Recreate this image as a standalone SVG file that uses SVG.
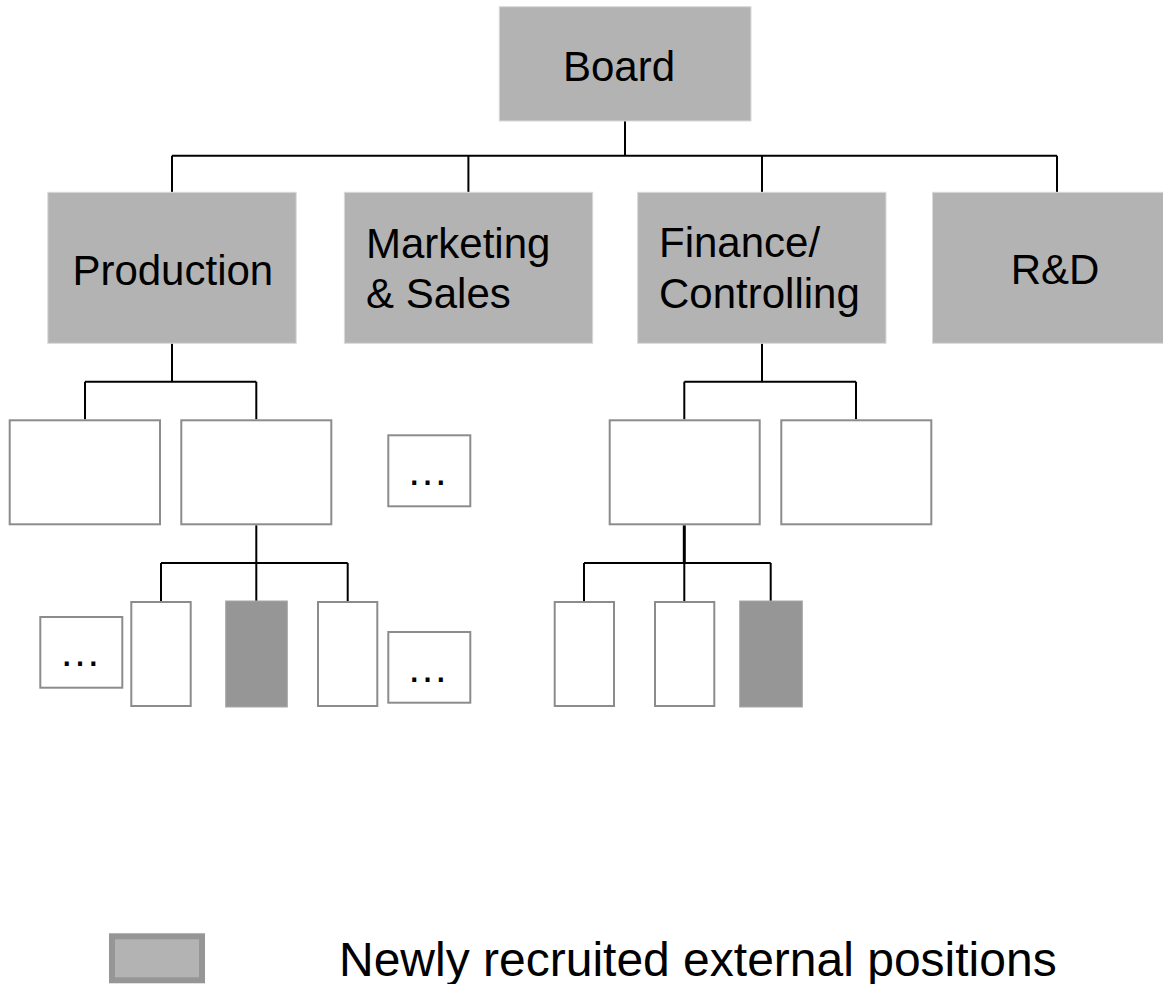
<svg xmlns="http://www.w3.org/2000/svg" width="1163" height="984" viewBox="0 0 1163 984">
  <style>
    .unit { fill: #b3b3b3; stroke: #d9d9d9; stroke-width: 1; }
    .post { fill: #ffffff; stroke: #8c8c8c; stroke-width: 2; }
    .hire { fill: #969696; stroke: #a6a6a6; stroke-width: 1; }
    .label { font-family: "Liberation Sans", Arial, sans-serif; font-size: 42px; fill: #000000; }
    .dots { font-family: "Liberation Sans", Arial, sans-serif; font-size: 42px; fill: #000000; text-anchor: middle; }
    .wire { fill: none; stroke: #000000; stroke-width: 2; }
  </style>
  <rect width="1163" height="984" fill="#ffffff"/>

  <!-- reporting lines -->
  <g id="connectors" class="wire">
    <path d="M625 121 V155.7 M172 155.7 H1057 M172 155.7 V192.3 M468.4 155.7 V192.3 M762 155.7 V192.3 M1057 155.7 V192.3"/>
    <path d="M172 343.3 V381.7 M85 381.7 H256.3 M85 381.7 V419.3 M256.3 381.7 V419.3"/>
    <path d="M256.3 525.3 V563 M161 563 H347.7 M161 563 V601 M256.3 563 V601 M347.7 563 V601"/>
    <path d="M762 343.3 V381.7 M684.3 381.7 H856 M684.3 381.7 V419.3 M856 381.7 V419.3"/>
    <path d="M684.3 525.3 V563" stroke-width="3"/>
    <path d="M584 563 H770.7 M584 563 V601 M684.3 563 V601 M770.7 563 V601"/>
  </g>

  <!-- top level -->
  <g id="board">
    <rect class="unit" x="499.3" y="6.7" width="251.7" height="114.3"/>
    <text class="label" x="563" y="81">Board</text>
  </g>

  <!-- divisions -->
  <g id="production">
    <rect class="unit" x="47.8" y="192.3" width="248.4" height="151"/>
    <text class="label" x="72.4" y="285">Production</text>
  </g>
  <g id="marketing-sales">
    <rect class="unit" x="344.4" y="192.3" width="248.3" height="151"/>
    <text class="label" x="366" y="258">Marketing</text>
    <text class="label" x="366" y="308">&amp; Sales</text>
  </g>
  <g id="finance-controlling">
    <rect class="unit" x="637.6" y="192.3" width="248.4" height="151"/>
    <text class="label" x="659" y="257">Finance/</text>
    <text class="label" x="659" y="307.5">Controlling</text>
  </g>
  <g id="rnd">
    <rect class="unit" x="932.5" y="192.3" width="248.4" height="151"/>
    <text class="label" x="1010.7" y="284">R&amp;D</text>
  </g>

  <!-- production departments -->
  <g id="prod-dept-1"><rect class="post" x="9.7" y="420.3" width="150.3" height="104"/></g>
  <g id="prod-dept-2"><rect class="post" x="181.3" y="420.3" width="150" height="104"/></g>
  <g id="prod-dept-more">
    <rect class="post" x="388.3" y="435.3" width="82" height="71"/>
    <text class="dots" x="427.5" y="485">…</text>
  </g>

  <!-- production positions -->
  <g id="prod-pos-more-left">
    <rect class="post" x="40.3" y="617" width="82" height="70.7"/>
    <text class="dots" x="80" y="665.5">…</text>
  </g>
  <g id="prod-pos-1"><rect class="post" x="131.3" y="602" width="59.4" height="104"/></g>
  <g id="prod-pos-2"><rect class="hire" x="225.7" y="601" width="61.6" height="106"/></g>
  <g id="prod-pos-3"><rect class="post" x="318" y="602" width="59.3" height="104"/></g>
  <g id="prod-pos-more-right">
    <rect class="post" x="388.3" y="632" width="82" height="70.7"/>
    <text class="dots" x="427.5" y="682">…</text>
  </g>

  <!-- finance departments -->
  <g id="fin-dept-1"><rect class="post" x="609.7" y="420.3" width="150" height="104"/></g>
  <g id="fin-dept-2"><rect class="post" x="781.3" y="420.3" width="150" height="104"/></g>

  <!-- finance positions -->
  <g id="fin-pos-1"><rect class="post" x="554.7" y="602" width="59.3" height="104"/></g>
  <g id="fin-pos-2"><rect class="post" x="655" y="602" width="59.3" height="104"/></g>
  <g id="fin-pos-3"><rect class="hire" x="739.7" y="601" width="62.6" height="106"/></g>

  <!-- key -->
  <g id="legend">
    <rect x="112" y="936.3" width="90" height="44" fill="#b3b3b3" stroke="#969696" stroke-width="6"/>
    <text x="339" y="976" font-family="'Liberation Sans', Arial, sans-serif" font-size="48" fill="#000000">Newly recruited external positions</text>
  </g>
</svg>
